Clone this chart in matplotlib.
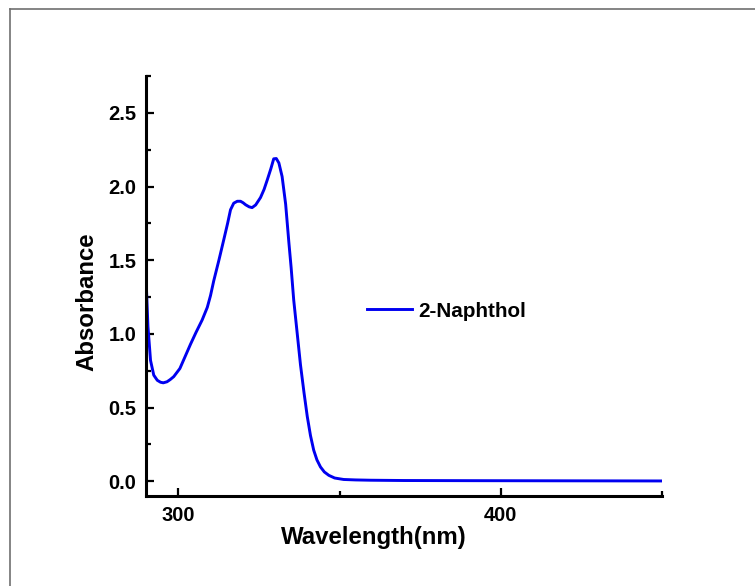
import matplotlib
matplotlib.use("Agg")
import matplotlib.pyplot as plt
from matplotlib.lines import Line2D
from matplotlib.ticker import MultipleLocator, FormatStrFormatter

plt.rcParams['font.family'] = ['Liberation Sans', 'DejaVu Sans']
plt.rcParams['font.weight'] = 'bold'

# UV-Vis absorption spectrum of 2-naphthol
wavelength = [290.0, 290.6, 291.4, 292.4, 293.5, 294.5, 295.35, 296.5, 297.5, 298.6,
              300.5, 302.0, 303.8, 305.5, 307.4, 309.0, 310.0, 311.0, 312.6, 314.1,
              315.3, 316.2, 317.2, 318.3, 319.3, 320.1, 320.9, 322.0, 322.9, 324.0,
              325.5, 326.6, 327.6, 328.7, 329.6, 330.4, 331.2, 332.2, 333.3, 334.3,
              335.0, 335.8, 336.9, 337.9, 339.0, 340.0, 341.0, 342.0, 343.0, 344.1,
              345.3, 346.7, 348.5, 351.3, 355.0, 359.6, 370.0, 390.0, 420.0, 450.0]
absorbance = [1.38, 1.05, 0.82, 0.72, 0.685, 0.672, 0.668, 0.675, 0.69, 0.71,
              0.765, 0.84, 0.93, 1.01, 1.094, 1.18, 1.26, 1.36, 1.50, 1.638,
              1.75, 1.842, 1.887, 1.90, 1.90, 1.89, 1.876, 1.862, 1.857, 1.875,
              1.925, 1.98, 2.045, 2.12, 2.188, 2.19, 2.16, 2.068, 1.88, 1.62,
              1.45, 1.23, 1.00, 0.79, 0.60, 0.44, 0.31, 0.211, 0.145, 0.097,
              0.063, 0.040, 0.022, 0.012, 0.009, 0.007, 0.005, 0.004, 0.003, 0.002]

series_label = "2-Naphthol"
x_label = "Wavelength(nm)"
y_label = "Absorbance"

fig = plt.figure(figsize=(7.55, 5.86), dpi=100)
ax = fig.add_axes([0.1934, 0.1536, 0.6834, 0.7167])

ax.plot(wavelength, absorbance, color='#0000f0', lw=2.1, label=series_label)

ax.set_xlim(290, 450)
ax.set_ylim(-0.1, 2.75)

ax.xaxis.set_major_locator(MultipleLocator(100))
ax.xaxis.set_minor_locator(MultipleLocator(50))
ax.yaxis.set_major_locator(MultipleLocator(0.5))
ax.yaxis.set_minor_locator(MultipleLocator(0.25))
ax.yaxis.set_major_formatter(FormatStrFormatter('%.1f'))

for side in ('top', 'right'):
    ax.spines[side].set_visible(False)
for side in ('left', 'bottom'):
    ax.spines[side].set_linewidth(2.2)

ax.tick_params(which='major', direction='in', length=6, width=1.6, labelsize=14.5)
ax.tick_params(which='minor', direction='in', length=3.8, width=1.6)
ax.tick_params(axis='y', which='major', pad=7)
ax.tick_params(axis='x', which='major', pad=7)
for lbl in ax.get_xticklabels() + ax.get_yticklabels():
    lbl.set_fontweight('bold')

ax.set_xlabel(x_label, fontsize=17.3, fontweight='bold', labelpad=1)
ax.set_ylabel(y_label, fontsize=17.3, fontweight='bold', labelpad=7)
ax.xaxis.label.set_x(0.442)
ax.yaxis.label.set_y(0.462)

leg = ax.legend(loc='center left', bbox_to_anchor=(0.392, 0.440), frameon=False,
                prop={'weight': 'bold', 'size': 14.9}, handlelength=2.17,
                handletextpad=0.3)

# thin gray page border along the top and left edges
fig.add_artist(Line2D([10/755, 10/755], [0, 1 - 9/586], transform=fig.transFigure,
                      color='#707070', lw=1.2))
fig.add_artist(Line2D([10/755, 1], [1 - 9/586, 1 - 9/586], transform=fig.transFigure,
                      color='#707070', lw=1.2))

fig.savefig("out.png", dpi=100, facecolor='white')
